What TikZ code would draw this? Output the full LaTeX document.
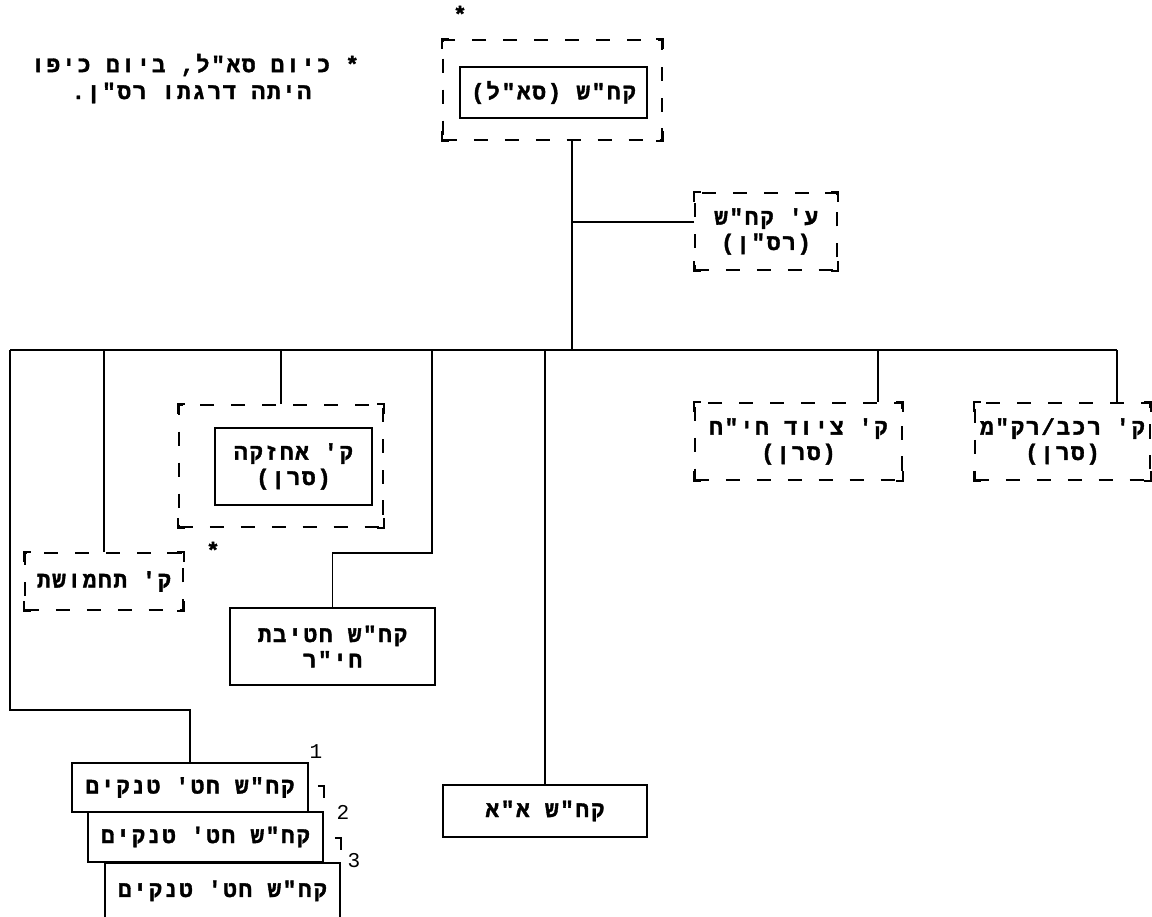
\documentclass[tikz,border=0pt]{standalone}
\usepackage{fontspec}
\newfontfamily\heb[Script=Hebrew,LetterSpace=8,Ligatures=TeXOff,FakeBold=1.6]{Liberation Mono Bold}
\newfontfamily\hebl[Ligatures=TeXOff]{Liberation Mono}
\TeXXeTstate=1
\newcommand\tw{\heb\fontsize{16}{18}\selectfont}
\newcommand\twd{\hebl\fontsize{15}{18}\selectfont}

\tikzset{
  solidbox/.style={draw,line width=1.3pt,fill=white,align=center,inner sep=2pt,font=\tw},
  dashbox/.style={draw,line width=1.3pt,dash pattern=on 10pt off 12pt,align=center,inner sep=2pt,font=\tw},
  brk/.style={line width=1.4pt,solid},
  wire/.style={line width=1.4pt},
}

\begin{document}
\begin{tikzpicture}[x=0.025cm,y=-0.025cm]
\useasboundingbox (0,0) rectangle (1152,916);
\clip (0,0) rectangle (1152,916);

% note
\node[font=\tw,anchor=east] (note1) at (364,65) {\beginR * כיום סא"ל, ביום כיפו\endR};
\node[font=\tw,anchor=east] (note2) at (316,93) {\beginR היתה דרגתו רס"ן.\endR};

% head
\node[dashbox,minimum width=5.475cm,minimum height=2.5cm] (topout) at (552.5,90) {};
\node[solidbox,minimum width=4.675cm,minimum height=1.275cm] (top) at (553.5,92.5) {\beginR קח"ש (סא"ל)\endR};
\node[font=\tw] (topstar) at (460,14) {*};
\node[dashbox,minimum width=3.55cm,minimum height=1.925cm] (staff) at (766,231.5) {\beginR ע' קח"ש\endR\\\beginR (רס"ן)\endR};

% companies
\node[dashbox,minimum width=5.1cm,minimum height=3.05cm] (maintout) at (281,466) {};
\node[solidbox,minimum width=3.925cm,minimum height=1.925cm] (maint) at (293.5,466.5) {\beginR ק' אחזקה\endR\\\beginR (סרן)\endR};
\node[font=\tw] (maintstar) at (213,550) {*};
\node[dashbox,minimum width=3.95cm,minimum height=1.425cm] (ammo) at (104,581.5) {\beginR ק' תחמושת\endR};
\node[solidbox,minimum width=5.125cm,minimum height=1.925cm] (inf) at (332.5,646.5) {\beginR קח"ש חטיבת\endR\\\beginR חי"ר\endR};
\node[solidbox,minimum width=5.1cm,minimum height=1.3cm] (aa) at (545,811) {\beginR קח"ש א"א\endR};
\node[dashbox,minimum width=5.175cm,minimum height=1.925cm] (equip) at (798.5,441.5) {\beginR ק' ציוד חי"ח\endR\\\beginR (סרן)\endR};
\node[dashbox,minimum width=4.375cm,minimum height=1.925cm] (veh) at (1062.5,441.5) {\beginR ק' רכב/רק"מ\endR\\\beginR (סרן)\endR};

% tank officers, back to front
\node[solidbox,minimum width=5.875cm,minimum height=1.4cm,anchor=north] (tank3) at (222.5,862) {\beginR קח"ש חט' טנקים\endR};
\node[solidbox,minimum width=5.875cm,minimum height=1.25cm] (tank2) at (205.5,837) {\beginR קח"ש חט' טנקים\endR};
\node[solidbox,minimum width=5.9cm,minimum height=1.225cm] (tank1) at (190,787.5) {\beginR קח"ש חט' טנקים\endR};
\node[font=\twd] (num1) at (316,752) {1};
\node[font=\twd] (num2) at (343,812) {2};
\node[font=\twd] (num3) at (354,861) {3};
\draw[brk] ([yshift=0.625cm]tank2.north east) ++(-6,0) -- ++(6,0) -- ++(0,12);
\draw[brk] ([yshift=0.6cm]tank3.north east) ++(-6,0) -- ++(6,0) -- ++(0,12);

% corner marks of the dashed frames
\foreach \b in {topout,staff,maintout,ammo,equip,veh}{
  \draw[brk] ([yshift=-7pt]\b.north west) -- (\b.north west) -- ([xshift=5pt]\b.north west);
  \draw[brk] ([yshift=-7pt]\b.north east) -- (\b.north east) -- ([xshift=-5pt]\b.north east);
  \draw[brk] ([yshift=7pt]\b.south west) -- (\b.south west) -- ([xshift=5pt]\b.south west);
  \draw[brk] ([yshift=7pt]\b.south east) -- (\b.south east) -- ([xshift=-5pt]\b.south east);
}

% lines
\coordinate (busL) at (10,350);
\coordinate (busR) at (1117,350);
\coordinate (trunk) at (572,350);
\coordinate (eqj) at (878,350);
\coordinate (infj) at (432,350);
\coordinate (infk) at (332.5,553);
\coordinate (tkk) at (190,710);
\coordinate (staffin) at ([yshift=0.24cm]staff.west);
\draw[wire] (busL) -- (busR);
\draw[wire] (trunk) -- (trunk |- topout.south);
\draw[wire] (staffin) -- (staffin -| trunk);
\draw[wire] (busL) |- (tkk) -- (tank1.north);
\draw[wire] (ammo.north) -- (ammo.north |- busL);
\draw[wire] (maintout.north) -- (maintout.north |- busL);
\draw[wire] (infj) |- (infk) -- (inf.north);
\draw[wire] (aa.north) -- (aa.north |- busL);
\draw[wire] (eqj) -- (eqj |- equip.north);
\draw[wire] (busR) -- (busR |- veh.north);
\end{tikzpicture}
\end{document}
